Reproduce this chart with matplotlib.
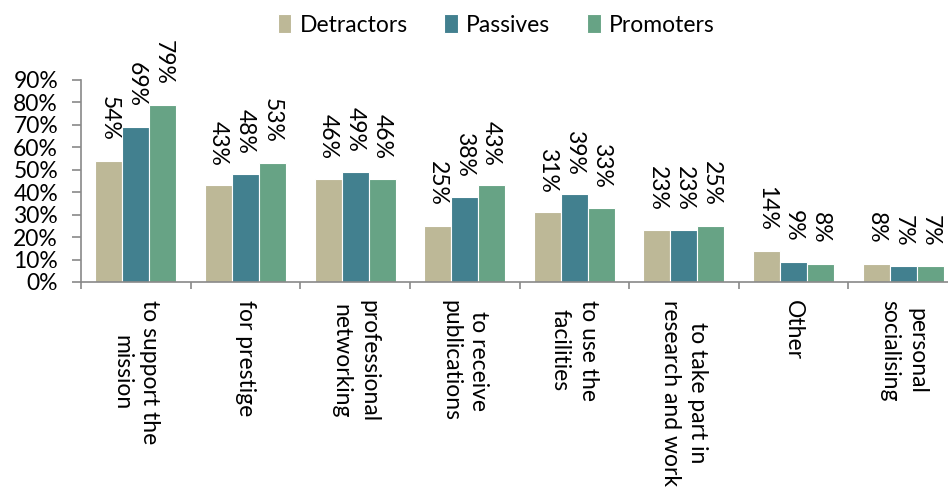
import matplotlib
matplotlib.use("Agg")
import matplotlib.pyplot as plt
import numpy as np

categories = ["to support the\nmission", "for prestige", "professional\nnetworking",
              "to receive\npublications", "to use the\nfacilities",
              "to take part in\nresearch and work", "Other", "personal\nsocialising"]
series_names = ["Detractors", "Passives", "Promoters"]
detractors = [54, 43, 46, 25, 31, 23, 14, 8]
passives = [69, 48, 49, 38, 39, 23, 9, 7]
promoters = [79, 53, 46, 43, 33, 25, 8, 7]
yticks = [0, 10, 20, 30, 40, 50, 60, 70, 80, 90]
colors = ["#bdb897", "#42808f", "#67a385"]

plt.rcParams['font.family'] = ['Lato', 'DejaVu Sans']
fs = 16.5

fig = plt.figure(figsize=(9.48, 5.0), dpi=100)
ax = fig.add_axes([81/948, 1-282/500, 877/948, 202/500])

x = np.arange(len(categories))
w = 0.246
series = [detractors, passives, promoters]
for i, (name, vals, c) in enumerate(zip(series_names, series, colors)):
    ax.bar(x + (i-1)*w, vals, w, color=c, edgecolor="white", linewidth=0.8, label=name)
    for xb, v in zip(x + (i-1)*w, vals):
        ax.annotate(f"{v}%", (xb, v), xytext=(0, 20), textcoords="offset pixels",
                    rotation=-90, ha="center", va="bottom", fontsize=fs)

ax.set_xlim(-0.5, len(categories)-0.5)
ax.set_ylim(0, 90)
ax.set_yticks(yticks)
ax.set_yticklabels([f"{t}%" for t in yticks], fontsize=fs)
ax.set_xticks(x)
ax.set_xticklabels(categories, rotation=-90, ha="center", va="top", fontsize=fs,
                   linespacing=1.4)
ax.set_xticks(np.arange(len(categories)+1) - 0.5, minor=True)
ax.tick_params(axis="x", which="major", length=0, pad=13)
ax.tick_params(axis="x", which="minor", length=5, color="#898989", width=1.2)
ax.tick_params(axis="y", length=6.5, color="#898989", width=1.2, pad=10)
for s in ["top", "right"]:
    ax.spines[s].set_visible(False)
for s in ["left", "bottom"]:
    ax.spines[s].set_color("#898989")
    ax.spines[s].set_linewidth(1.2)

fig.legend(loc="center", bbox_to_anchor=(496/948, 1-25/500), ncol=3, frameon=False,
           fontsize=fs, handlelength=0.6, handleheight=0.9, handletextpad=0.35,
           columnspacing=1.6)

fig.savefig("out.png", dpi=100)
